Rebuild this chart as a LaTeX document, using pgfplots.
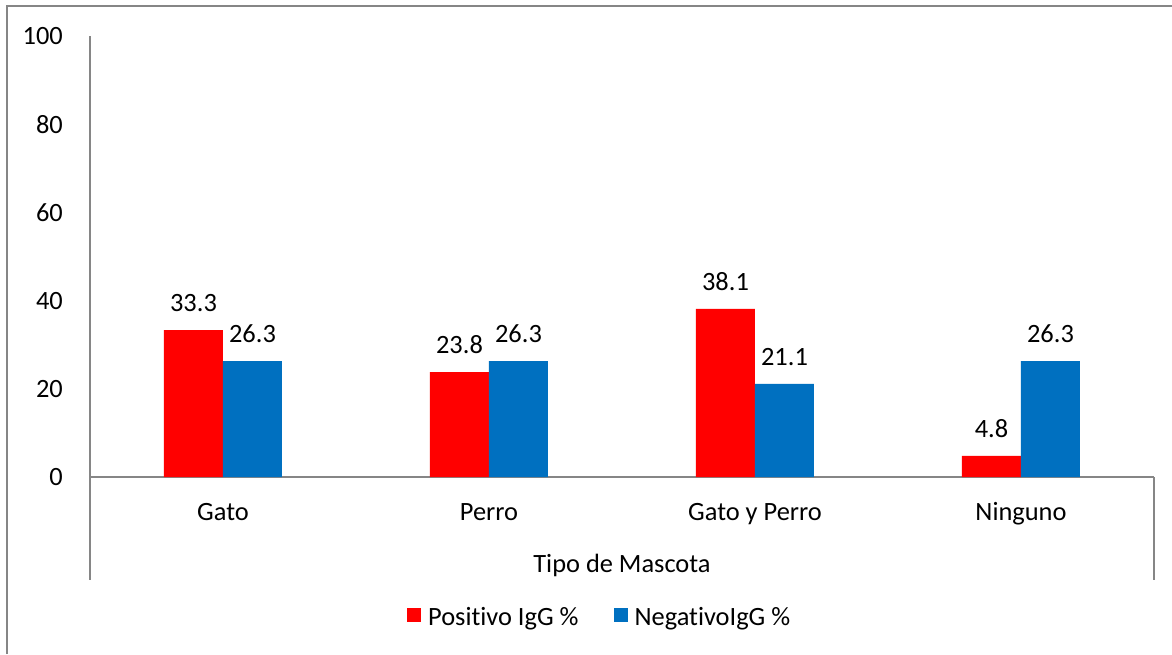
\documentclass[border=0pt]{standalone}
\usepackage{pgfplots}
\pgfplotsset{compat=1.18}
\usepackage{fontspec}
\setmainfont{Carlito}[Ligatures=NoCommon]
\definecolor{posred}{HTML}{FF0000}
\definecolor{negblue}{HTML}{0070C0}
\definecolor{axisgray}{HTML}{868686}

\begin{document}
\begin{tikzpicture}[font=\fontsize{26.4}{31}\selectfont]
\useasboundingbox (0,0) rectangle (1172pt,654pt);
% chart area frame (left and top edges)
\draw[axisgray, line width=2pt] (7pt,0) -- (7pt,648pt) -- (1172pt,648pt);
\begin{axis}[
  at={(90pt,177pt)}, anchor=south west,
  scale only axis, width=1064pt, height=441pt,
  ybar=0pt, bar width=59pt,
  xmin=-0.5, xmax=3.5, ymin=0, ymax=100,
  xtick={0,1,2,3},
  xticklabels={Gato, Perro, Gato y Perro, Ninguno},
  ytick={0,20,...,100},
  axis x line*=bottom, axis y line*=left,
  axis line style={axisgray, line width=1.5pt, -},
  major tick length=0pt,
  tick label style={font=\fontsize{26.4}{31}\selectfont},
  /pgf/number format/assume math mode=true,
  yticklabel style={anchor=east, inner sep=0pt, xshift=-27pt},
  xticklabel style={anchor=north, inner sep=0pt, yshift=-26pt, text height=17pt},
  xlabel={Tipo de Mascota},
  xlabel style={at={(axis description cs:0.5,0)}, anchor=north, inner sep=0pt,
                yshift=-78pt, text height=17pt},
  clip=false,
  nodes near coords={\pgfmathprintnumber[fixed,fixed zerofill,precision=1]{\pgfplotspointmeta}},
  every node near coord/.append style={font=\fontsize{26.4}{31}\selectfont,
      inner sep=0pt, anchor=south, yshift=18pt},
  legend columns=2,
  legend style={at={(axis description cs:0.2979,-0.317)}, anchor=west,
      draw=none, inner sep=0pt, nodes={inner sep=0pt},
      font=\fontsize{26.4}{31}\selectfont,
      /tikz/every odd column/.append style={column sep=7pt},
      /tikz/every even column/.append style={column sep=35pt}},
  sq legend/.style={legend image code/.code={\fill (0pt,-5pt) rectangle (14pt,9pt);}},
]
\addplot[fill=posred, draw=none, sq legend]
  coordinates {(0,33.3) (1,23.8) (2,38.1) (3,4.8)};
\addplot[fill=negblue, draw=none, sq legend]
  coordinates {(0,26.3) (1,26.3) (2,21.1) (3,26.3)};
\legend{Positivo IgG \%, NegativoIgG \%}
% category axis extends below the baseline
\draw[axisgray, line width=1.5pt] (axis description cs:0,0) -- (axis description cs:0,-0.2336);
\draw[axisgray, line width=1.5pt] (axis description cs:1,0) -- (axis description cs:1,-0.2336);
\end{axis}
\end{tikzpicture}
\end{document}
